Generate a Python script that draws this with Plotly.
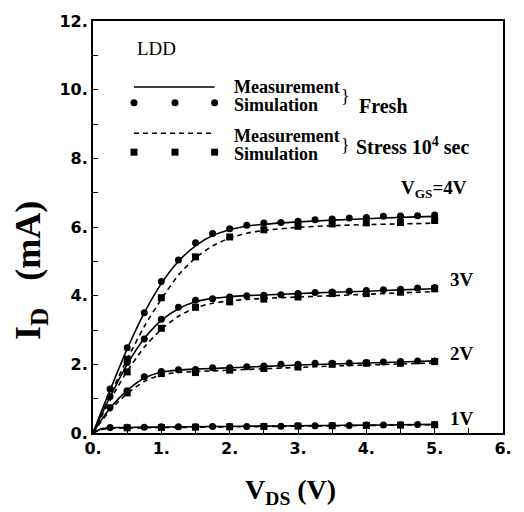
import plotly.graph_objects as go

# Drain current vs drain voltage of an LDD MOSFET, fresh and after 1e4 s stress
vgs_levels = [4, 3, 2, 1]

# Measured curves (lines)
vds_meas = [0.0, 0.125, 0.25, 0.375, 0.5, 0.75, 1.0, 1.25, 1.5, 1.75, 2.0, 2.25, 2.5, 3.0, 3.5, 4.0, 4.5, 5.0]
fresh_meas = {
    4: [0.0, 0.64, 1.25, 1.86, 2.45, 3.50, 4.35, 5.00, 5.45, 5.75, 5.92, 6.02, 6.08, 6.15, 6.20, 6.24, 6.28, 6.31],
    3: [0.0, 0.54, 1.05, 1.54, 2.00, 2.75, 3.28, 3.62, 3.82, 3.92, 3.97, 4.00, 4.02, 4.06, 4.10, 4.13, 4.17, 4.20],
    2: [0.0, 0.39, 0.72, 1.00, 1.24, 1.60, 1.77, 1.83, 1.86, 1.88, 1.90, 1.92, 1.94, 1.98, 2.01, 2.04, 2.07, 2.10],
    1: [0.0, 0.12, 0.15, 0.16, 0.16, 0.17, 0.17, 0.18, 0.18, 0.19, 0.19, 0.20, 0.20, 0.21, 0.22, 0.23, 0.24, 0.25],
}
stress_meas = {
    4: [0.0, 0.56, 1.10, 1.64, 2.15, 3.10, 3.90, 4.60, 5.10, 5.45, 5.68, 5.82, 5.90, 5.99, 6.04, 6.07, 6.09, 6.11],
    3: [0.0, 0.49, 0.95, 1.39, 1.80, 2.50, 3.02, 3.40, 3.65, 3.78, 3.85, 3.89, 3.92, 3.96, 4.00, 4.04, 4.08, 4.12],
    2: [0.0, 0.35, 0.65, 0.92, 1.15, 1.50, 1.70, 1.76, 1.79, 1.81, 1.83, 1.85, 1.87, 1.91, 1.95, 1.98, 2.01, 2.04],
    1: [0.0, 0.10, 0.13, 0.14, 0.15, 0.15, 0.16, 0.16, 0.17, 0.17, 0.18, 0.18, 0.19, 0.20, 0.21, 0.22, 0.23, 0.24],
}

# Simulated points: fresh (circles) every 0.25 V, stressed (squares) every 0.5 V
vds_sim_fresh = [0.25, 0.5, 0.75, 1.0, 1.25, 1.5, 1.75, 2.0, 2.25, 2.5,
                 2.75, 3.0, 3.25, 3.5, 3.75, 4.0, 4.25, 4.5, 4.75, 5.0]
fresh_sim = {
    4: [1.28, 2.48, 3.50, 4.41, 5.04, 5.54, 5.81, 5.95, 6.05, 6.12,
        6.13, 6.17, 6.21, 6.23, 6.26, 6.28, 6.31, 6.32, 6.33, 6.35],
    3: [1.06, 2.05, 2.74, 3.31, 3.66, 3.87, 3.91, 3.96, 4.00, 4.01,
        4.03, 4.06, 4.09, 4.11, 4.13, 4.15, 4.17, 4.19, 4.22, 4.24],
    2: [0.74, 1.23, 1.64, 1.79, 1.84, 1.85, 1.90, 1.90, 1.93, 1.95,
        2.00, 2.00, 2.03, 2.03, 2.04, 2.05, 2.07, 2.08, 2.10, 2.10],
    1: [0.16, 0.17, 0.17, 0.18, 0.18, 0.18, 0.19, 0.19, 0.19, 0.20,
        0.20, 0.21, 0.21, 0.22, 0.22, 0.23, 0.23, 0.24, 0.25, 0.25],
}
vds_sim_stress = [0.5, 1.0, 1.5, 2.0, 2.5, 3.0, 3.5, 4.0, 4.5, 5.0]
stress_sim = {
    4: [2.15, 3.94, 5.13, 5.71, 5.92, 6.02, 6.09, 6.12, 6.13, 6.19],
    3: [1.78, 3.05, 3.66, 3.82, 3.90, 3.96, 4.06, 4.06, 4.10, 4.20],
    2: [1.17, 1.73, 1.76, 1.83, 1.88, 1.92, 2.00, 2.03, 2.03, 2.08],
    1: [0.15, 0.16, 0.17, 0.18, 0.19, 0.20, 0.21, 0.22, 0.23, 0.24],
}

# Curve labels
curve_labels = ["V<sub>GS</sub>=4V", "3V", "2V", "1V"]
label_x = [4.48, 5.2, 5.2, 5.2]
label_y = [7.1, 4.48, 2.33, 0.43]

x_ticks = [0, 1, 2, 3, 4, 5, 6]
x_tick_text = ["0.", "1.", "2.", "3.", "4.", "5.", "6."]
y_ticks = [0, 2, 4, 6, 8, 10, 12]
y_tick_text = ["0.", "2.", "4.", "6.", "8.", "10.", "12."]

SERIF = "Liberation Serif, Times New Roman, serif"
SANS = "DejaVu Sans, Arial, sans-serif"
INK = "black"

fig = go.Figure()

for v in vgs_levels:
    fig.add_trace(go.Scatter(x=vds_meas, y=fresh_meas[v], mode="lines",
                             line=dict(color=INK, width=1.6, shape="spline", smoothing=0.6),
                             showlegend=False, hoverinfo="skip"))
    fig.add_trace(go.Scatter(x=vds_meas, y=stress_meas[v], mode="lines",
                             line=dict(color=INK, width=1.6, dash="5px,4px", shape="spline", smoothing=0.6),
                             showlegend=False, hoverinfo="skip"))
    fig.add_trace(go.Scatter(x=vds_sim_fresh, y=fresh_sim[v], mode="markers",
                             marker=dict(symbol="circle", size=7, color=INK),
                             showlegend=False))
    fig.add_trace(go.Scatter(x=vds_sim_stress, y=stress_sim[v], mode="markers",
                             marker=dict(symbol="square", size=7, color=INK),
                             showlegend=False))

for text, lx, ly in zip(curve_labels, label_x, label_y):
    fig.add_annotation(x=lx, y=ly, text=f"<b>{text}</b>", showarrow=False,
                       xanchor="left", yanchor="middle",
                       font=dict(family=SERIF, size=19, color=INK))

# Hand-drawn legend block inside the plot
key_x = [0.6, 1.2, 1.78]
fig.add_shape(type="line", x0=key_x[0], x1=key_x[-1], y0=10.08, y1=10.08,
              line=dict(color=INK, width=1.5))
fig.add_shape(type="line", x0=key_x[0], x1=key_x[-1], y0=8.73, y1=8.73,
              line=dict(color=INK, width=1.5, dash="5px,4px"))
fig.add_trace(go.Scatter(x=key_x, y=[9.62] * 3, mode="markers",
                         marker=dict(symbol="circle", size=7, color=INK),
                         showlegend=False, hoverinfo="skip"))
fig.add_trace(go.Scatter(x=key_x, y=[8.18] * 3, mode="markers",
                         marker=dict(symbol="square", size=7, color=INK),
                         showlegend=False, hoverinfo="skip"))

legend_texts = [
    ("Measurement", 2.05, 10.08), ("Simulation", 2.05, 9.54),
    ("Measurement", 2.05, 8.66), ("Simulation", 2.05, 8.12),
]
for t, tx, ty in legend_texts:
    fig.add_annotation(x=tx, y=ty, text=f"<b>{t}</b>", showarrow=False,
                       xanchor="left", yanchor="middle", borderpad=0,
                       font=dict(family=SERIF, size=18, color=INK))
for ty in [9.82, 8.38]:
    fig.add_annotation(x=3.62, y=ty, text="}", showarrow=False,
                       xanchor="left", yanchor="middle", borderpad=0,
                       font=dict(family=SERIF, size=18, color=INK))
fig.add_annotation(x=3.87, y=9.53, text="<b>Fresh</b>", showarrow=False,
                   xanchor="left", yanchor="middle",
                   font=dict(family=SERIF, size=20, color=INK))
fig.add_annotation(x=3.82, y=8.37, text="<b>Stress 10<sup>4</sup> sec</b>", showarrow=False,
                   xanchor="left", yanchor="middle",
                   font=dict(family=SERIF, size=20, color=INK))
fig.add_annotation(x=0.62, y=11.2, text="LDD", showarrow=False,
                   xanchor="left", yanchor="middle",
                   font=dict(family=SERIF, size=19, color=INK))

# Axis titles
fig.add_annotation(xref="paper", yref="paper", x=-0.152, y=0.395,
                   text="<b>I<sub>D</sub>\u00a0\u00a0\u00a0(mA)</b>", textangle=-90,
                   showarrow=False, xanchor="center", yanchor="middle",
                   font=dict(family=SERIF, size=36, color=INK))
fig.add_annotation(xref="paper", yref="paper", x=0.482, y=-0.141,
                   text="<b>V<sub>DS</sub> (V)</b>",
                   showarrow=False, xanchor="center", yanchor="middle",
                   font=dict(family=SERIF, size=28, color=INK))

fig.update_xaxes(range=[0, 6], tickvals=x_ticks, ticktext=x_tick_text,
                 ticks="inside", ticklen=0, showgrid=False, zeroline=False,
                 showline=True, linecolor=INK, linewidth=2, mirror=True,
                 tickfont=dict(family=SANS, size=16, color=INK, weight="bold"),
                 minor=dict(dtick=0.5, ticks="inside", ticklen=5, tickcolor=INK, tickwidth=1),
                 fixedrange=True)
fig.update_yaxes(range=[0, 12], tickvals=y_ticks, ticktext=y_tick_text,
                 ticks="inside", ticklen=5, tickcolor=INK, showgrid=False, zeroline=False,
                 showline=True, linecolor=INK, linewidth=2, mirror=True,
                 tickfont=dict(family=SANS, size=16, color=INK, weight="bold"),
                 minor=dict(dtick=1, ticks="inside", ticklen=5, tickcolor=INK, tickwidth=1),
                 fixedrange=True)

fig.update_layout(width=524, height=512,
                  margin=dict(l=93, r=12, t=15, b=79),
                  paper_bgcolor="white", plot_bgcolor="white",
                  showlegend=False)

fig.write_html("out.html")
